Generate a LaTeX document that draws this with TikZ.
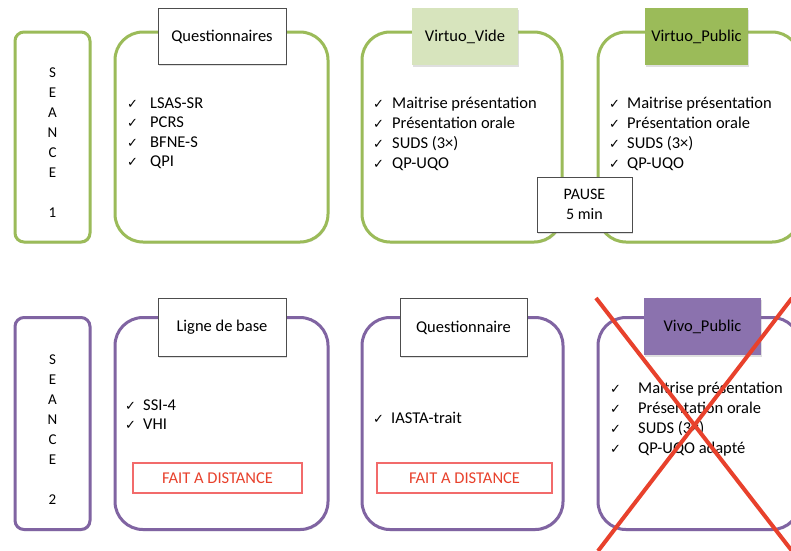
\documentclass[tikz,border=0pt]{standalone}
\usepackage{fontspec}
\setmainfont{Carlito}
\newfontfamily\symfont{DejaVu Sans}
\usetikzlibrary{shadows}

\definecolor{vert}{HTML}{9BBB59}
\definecolor{vertclair}{HTML}{D7E4BD}
\definecolor{violet}{HTML}{8064A2}
\definecolor{violetfond}{HTML}{8B72AE}
\definecolor{rouge}{HTML}{E8412C}
\definecolor{rougecadre}{HTML}{F26B6B}
\definecolor{cadre}{HTML}{4D4D4D}

\newcommand{\ok}{{\symfont\fontsize{13}{13}\selectfont ✓}}

\tikzset{
  ombre/.style={drop shadow={opacity=0.25,shadow xshift=1pt,shadow yshift=-1.5pt}},
  grand/.style={draw=#1,fill=white,line width=3pt,rounded corners=28pt,ombre},
  seance/.style={draw=#1,fill=white,line width=3pt,rounded corners=9pt,minimum width=75pt,minimum height=210pt,ombre},
  lettres/.style={align=center,font=\fontsize{15}{20}\selectfont},
  titre/.style={fill=#1,minimum height=56pt,inner sep=0pt,font=\fontsize{16.5}{18}\selectfont,ombre},
  coche/.style={anchor=base west,inner sep=0pt},
  item/.style={anchor=base west,inner sep=0pt,font=\fontsize{16.5}{18}\selectfont},
  adistance/.style={draw=rougecadre,line width=1.2pt,text=rouge,minimum height=30pt,font=\fontsize{16.5}{18}\selectfont},
  croix/.style={draw=rouge,line width=4pt}
}

\begin{document}
\begin{tikzpicture}[x=1pt,y=-1pt]
\clip (0,0) rectangle (791,550);
\fill[white] (0,0) rectangle (791,550);

\node[seance=vert] (s1) at (52.5,137) {};
\node[lettres] (l1) at ([yshift=-6pt]s1.center) {S\\E\\A\\N\\C\\E\\~\\1};
\node[grand=vert,minimum width=213pt,minimum height=210pt] (b1) at (221.5,137) {};
\node[grand=vert,minimum width=200pt,minimum height=210pt] (b2) at (462,137) {};
\node[grand=vert,minimum width=202pt,minimum height=210pt] (b3) at (699,137) {};

\node[titre=white,draw=cadre,line width=1pt,minimum width=128pt] (t1) at (222,36.5) {Questionnaires};
\node[titre=vertclair,minimum width=106pt,minimum height=57pt] (t2) at (465,36.5) {Virtuo\_Vide};
\node[titre=vert,minimum width=103pt,minimum height=57pt] (t3) at (696.5,36.5) {Virtuo\_Public};

\foreach \txt [count=\i from 0] in {LSAS-SR,PCRS,BFNE-S,QPI}{
  \node[coche] (c1-\i) at (127,108+19.6*\i) {\ok};
  \node[item] (i1-\i) at (150,108+19.6*\i) {\txt};
}
\foreach \txt [count=\i from 0] in {Maitrise présentation,Présentation orale,{SUDS (3×)},QP-UQO}{
  \node[coche] (c2-\i) at (373,108+20*\i) {\ok};
  \node[item] (i2-\i) at (392,108+20*\i) {\txt};
  \node[coche] (c3-\i) at (609,108+20*\i) {\ok};
  \node[item] (i3-\i) at (627,108+20*\i) {\txt};
}

\node[draw=cadre,fill=white,line width=1pt,minimum width=95pt,minimum height=55pt,align=center,font=\fontsize{16}{20}\selectfont,ombre] (pause) at (584.5,204.5) {PAUSE\\5 min};

\node[seance=violet,minimum height=212pt] (s2) at (52.5,423.5) {};
\node[lettres] (l2) at ([yshift=-6pt]s2.center) {S\\E\\A\\N\\C\\E\\~\\2};
\node[grand=violet,minimum width=213pt,minimum height=212pt] (b4) at (221.5,423.5) {};
\node[grand=violet,minimum width=201pt,minimum height=212pt] (b5) at (462.5,423.5) {};
\node[grand=violet,minimum width=202pt,minimum height=212pt] (b6) at (699,423.5) {};

\node[titre=white,draw=cadre,line width=1pt,minimum width=128pt,minimum height=58pt] (t4) at (222,327.5) {Ligne de base};
\node[titre=white,draw=cadre,line width=1pt,minimum width=127pt,minimum height=58pt] (t5) at (463.5,327.5) {Questionnaire};
\node[titre=violetfond,minimum width=117pt,minimum height=57pt] (t6) at (702.5,326.5) {Vivo\_Public};

\foreach \txt [count=\i from 0] in {SSI-4,VHI}{
  \node[coche] (c4-\i) at (125,410+19.5*\i) {\ok};
  \node[item] (i4-\i) at (143,410+19.5*\i) {\txt};
}
\node[coche] (c5-0) at (373,423) {\ok};
\node[item] (i5-0) at (391,423) {IASTA-trait};
\foreach \txt [count=\i from 0] in {Maitrise présentation,Présentation orale,{SUDS (3×)},QP-UQO adapté}{
  \node[coche] (c6-\i) at (610,393+20.3*\i) {\ok};
  \node[item] (i6-\i) at (638,393+20.3*\i) {\txt};
}

\node[adistance,minimum width=169pt] (f1) at (217.5,478) {FAIT A DISTANCE};
\node[adistance,minimum width=175pt] (f2) at (464.5,478) {FAIT A DISTANCE};

\coordinate (xa) at (596,298);
\coordinate (xb) at (792,551);
\coordinate (xc) at (792,298);
\coordinate (xd) at (598,551);
\draw[croix] (xa) -- (xb);
\draw[croix] (xc) -- (xd);
\end{tikzpicture}
\end{document}
